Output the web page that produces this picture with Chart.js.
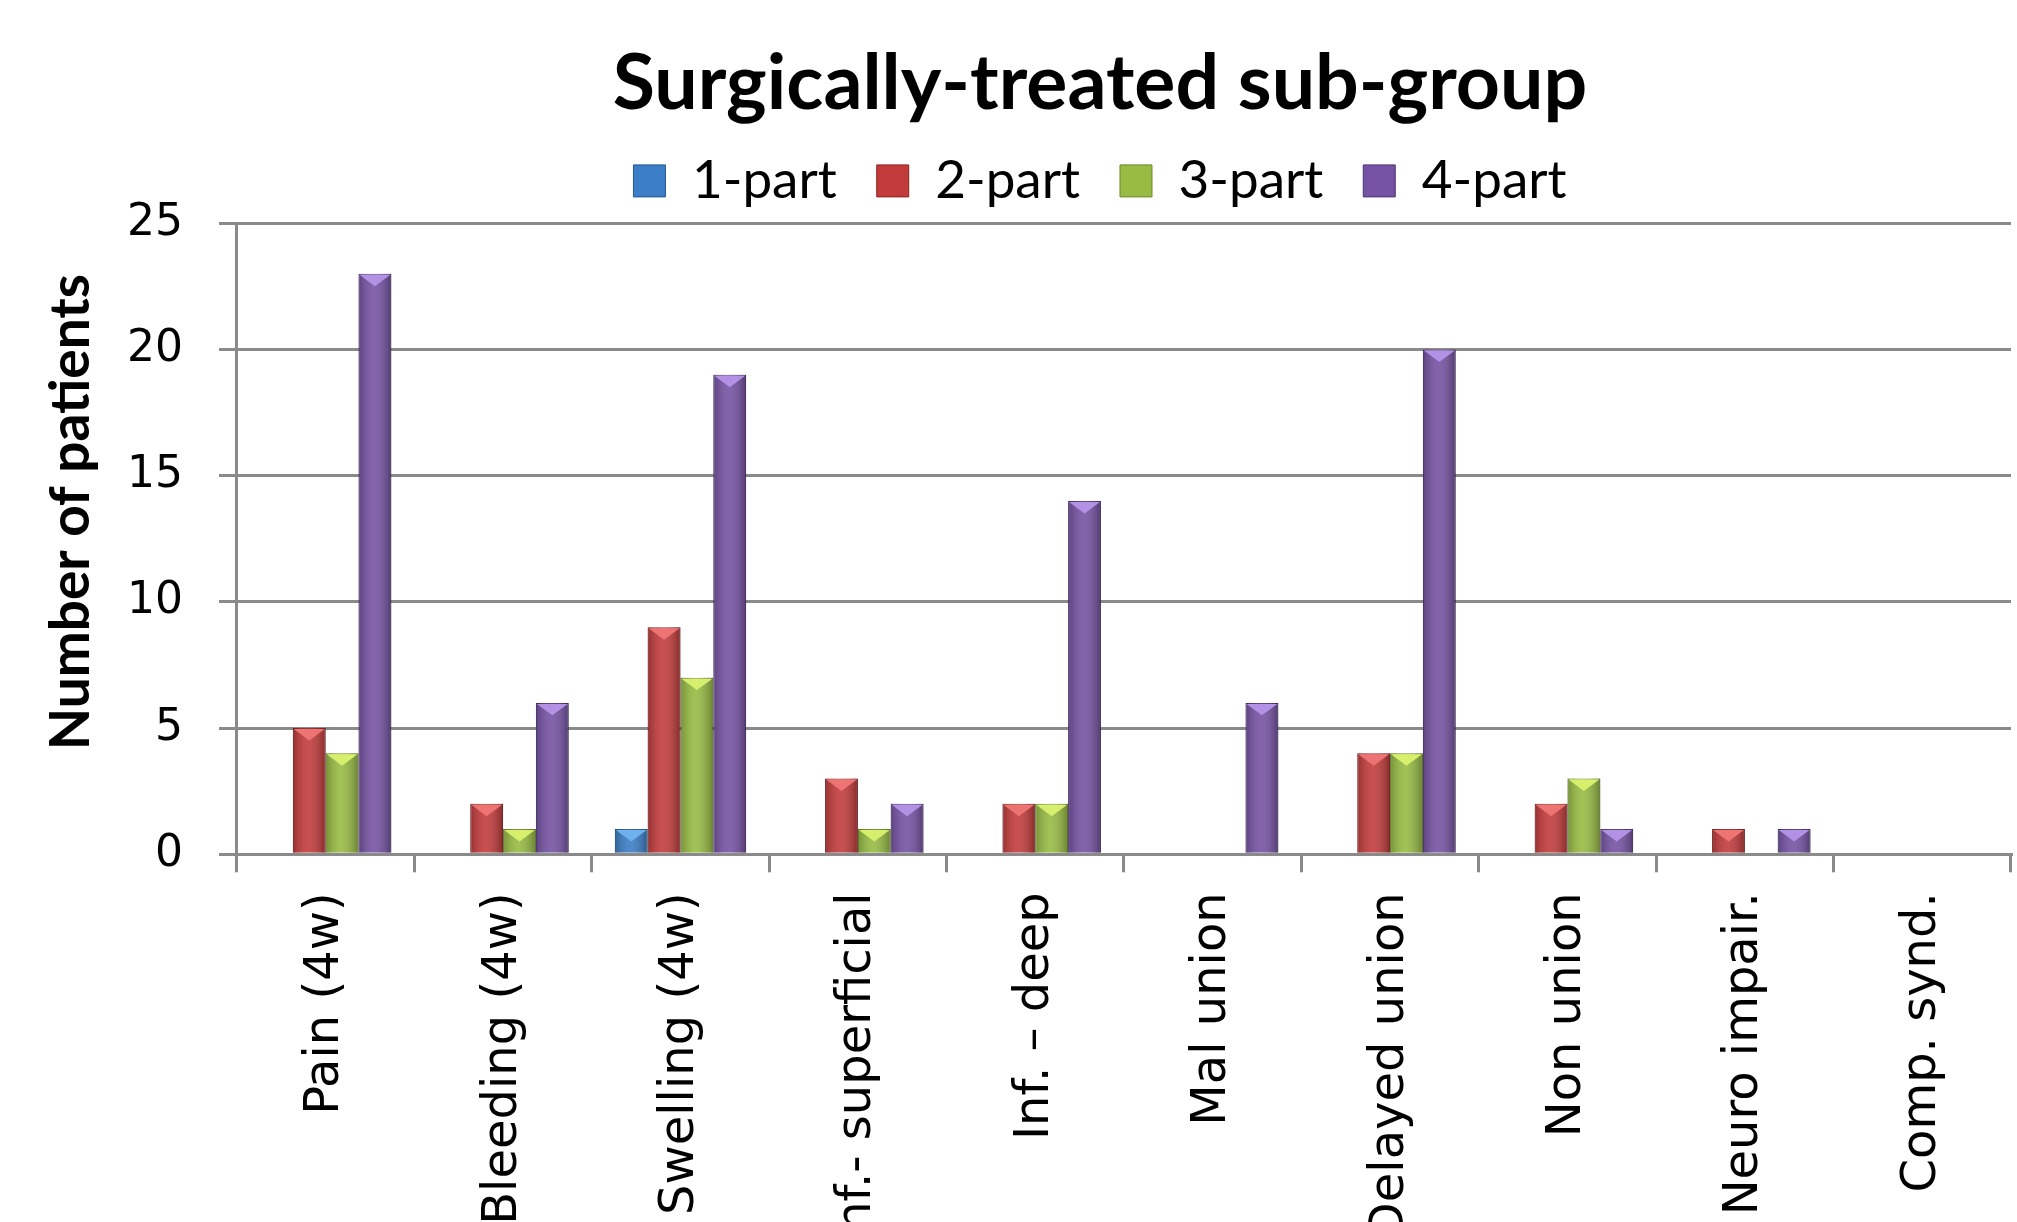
<!DOCTYPE html>
<html>
<head>
<meta charset="utf-8">
<script src="https://cdn.jsdelivr.net/npm/chart.js@4.4.0/dist/chart.umd.min.js"></script>
<style>
  html, body { margin: 0; padding: 0; background: #fff; overflow: hidden; }
  #wrap { position: relative; width: 2017px; height: 1266px; }
</style>
</head>
<body>
<div id="wrap"><canvas id="chart"></canvas></div>
<script>
// data
const categories = ["Pain (4w)", "Bleeding (4w)", "Swelling (4w)", "Inf.- superficial", "Inf. \u2013 deep",
  "Mal union", "Delayed union", "Non union", "Neuro impair.", "Comp. synd."];
const seriesNames = ["1-part", "2-part", "3-part", "4-part"];
const onePart   = [0, 0, 1, 0, 0, 0, 0, 0, 0, 0];
const twoPart   = [5, 2, 9, 3, 2, 0, 4, 2, 1, 0];
const threePart = [4, 1, 7, 1, 2, 0, 4, 3, 0, 0];
const fourPart  = [23, 6, 19, 2, 14, 6, 20, 1, 1, 0];
const yMin = 0, yMax = 25, yStep = 5;

const fills  = ['#3b7dc6', '#c23b3b', '#97bb43', '#7552a3'];
const edges  = ['#245a94', '#8e2222', '#6c8a26', '#4f3476'];
const bevels = ['#6fb0ee', '#ee7474', '#d6f06e', '#b392e6'];

const gray = '#8a8a8a';

// shading + top bevel on each bar, so it looks like the office 3d style
const bevelPlugin = {
  id: 'bevel',
  afterDatasetsDraw(chart) {
    const ctx = chart.ctx;
    chart.data.datasets.forEach((ds, i) => {
      const meta = chart.getDatasetMeta(i);
      meta.data.forEach((bar, j) => {
        if (!ds.data[j]) return;
        const half = bar.width / 2;
        const left = bar.x - half, right = bar.x + half;
        const top = bar.y, bottom = bar.base;
        ctx.save();
        const g = ctx.createLinearGradient(left, 0, right, 0);
        g.addColorStop(0, 'rgba(0,0,0,0.22)');
        g.addColorStop(0.45, 'rgba(255,255,255,0.10)');
        g.addColorStop(1, 'rgba(0,0,0,0.30)');
        ctx.fillStyle = g;
        ctx.fillRect(left, top, bar.width, bottom - top);
        ctx.beginPath();
        ctx.moveTo(left + 1, top + 1);
        ctx.lineTo(right - 1, top + 1);
        ctx.lineTo(bar.x, top + Math.min(bar.width * 0.38, bottom - top));
        ctx.closePath();
        ctx.fillStyle = bevels[i];
        ctx.fill();
        ctx.restore();
      });
    });
  }
};

// title and legend sit centred over the plot, not over the whole canvas;
// legend also nudged up a bit to leave a gap above the plot
const centerTopPlugin = {
  id: 'centerTop',
  afterLayout(chart) {
    const mid = (chart.chartArea.left + chart.chartArea.right) / 2 - 24;
    [chart.titleBlock, chart.legend].forEach(box => {
      if (!box) return;
      const w = box.right - box.left;
      box.left = mid - w / 2;
      box.right = mid + w / 2;
    });
    if (chart.legend) {
      chart.legend.top -= 6;
      chart.legend.bottom -= 6;
    }
  }
};

const seriesData = [onePart, twoPart, threePart, fourPart];

new Chart(document.getElementById('chart'), {
  type: 'bar',
  data: {
    labels: categories,
    datasets: seriesNames.map((name, i) => ({
      label: name,
      data: seriesData[i],
      backgroundColor: fills[i],
      borderColor: edges[i],
      borderWidth: 1,
      categoryPercentage: 0.74,
      barPercentage: 1.0
    }))
  },
  options: {
    responsive: true,
    maintainAspectRatio: false,
    animation: false,
    layout: { padding: { top: 28, left: 38, right: 6, bottom: 0 } },
    plugins: {
      title: {
        display: true,
        text: 'Surgically-treated sub-group',
        color: '#000',
        font: { family: 'Lato', weight: 'bold', size: 77 },
        padding: { top: 10, bottom: -10 }
      },
      legend: {
        display: true,
        labels: {
          color: '#000',
          font: { family: 'Lato', size: 53 },
          boxWidth: 32,
          boxHeight: 32,
          padding: 40
        }
      },
      tooltip: { enabled: false }
    },
    scales: {
      x: {
        grid: {
          offset: true,
          drawOnChartArea: false,
          color: gray,
          lineWidth: 3,
          tickLength: 18
        },
        border: { color: gray, width: 3 },
        ticks: {
          color: '#000',
          font: { family: 'DejaVu Sans', size: 48 },
          minRotation: 90,
          maxRotation: 90,
          autoSkip: false,
          padding: 20
        }
      },
      y: {
        min: yMin,
        max: yMax,
        grid: { color: gray, lineWidth: 3, tickLength: 18 },
        border: { color: gray, width: 3 },
        ticks: {
          stepSize: yStep,
          color: '#000',
          font: { family: 'DejaVu Sans', size: 44 },
          padding: 36
        },
        title: {
          display: true,
          text: '    Number of patients',
          color: '#000',
          font: { family: 'Lato', weight: 'bold', size: 55 },
          padding: { top: 0, bottom: -13 }
        }
      }
    }
  },
  plugins: [bevelPlugin, centerTopPlugin]
});
</script>
</body>
</html>
